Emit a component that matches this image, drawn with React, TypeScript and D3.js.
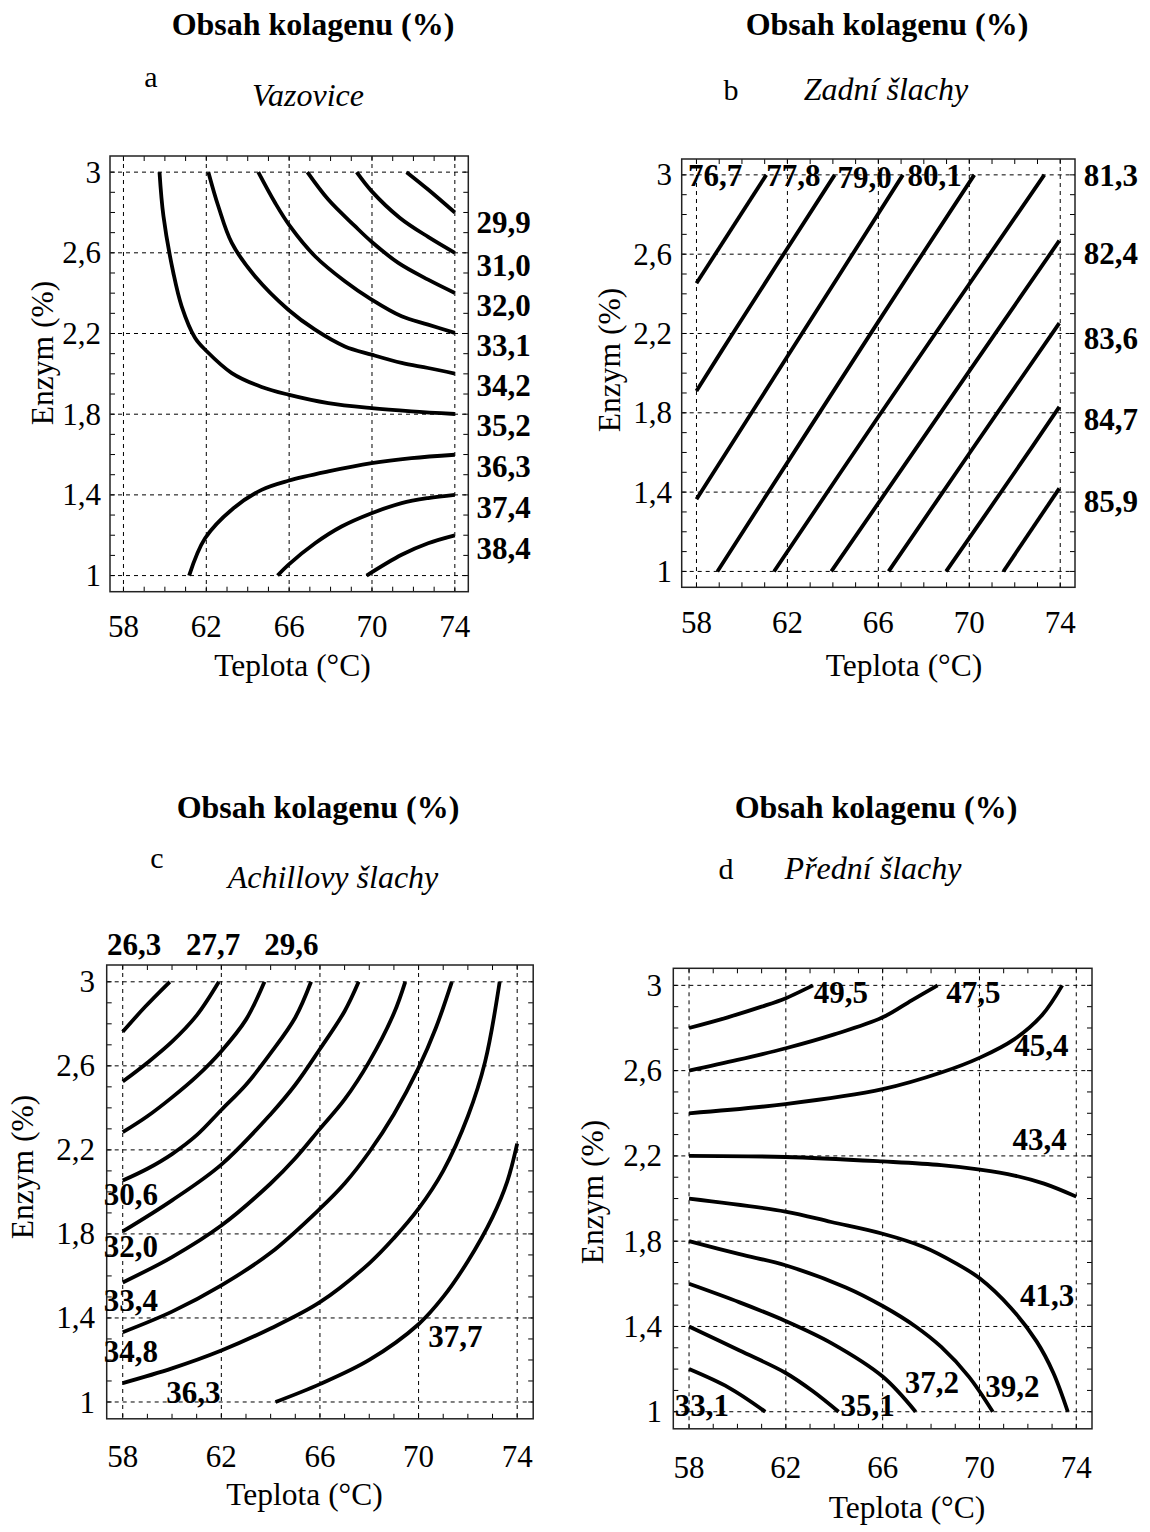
import React, { useRef, useEffect } from "react";
import * as d3 from "d3";

// shared axes (Teplota °C on x, Enzym % on y)
const xDomain = [57.35, 74.65];
const yDomain = [0.92, 3.08];
const xTicks = [58, 62, 66, 70, 74];
const yTicks = [1, 1.4, 1.8, 2.2, 2.6, 3];
const yTickLabels = ["1", "1,4", "1,8", "2,2", "2,6", "3"];
const xMinorTicks = [58, 59, 60, 61, 62, 63, 64, 65, 66, 67, 68, 69, 70, 71, 72, 73, 74];
const yMinorTicks = [1, 1.1, 1.2, 1.3, 1.4, 1.5, 1.6, 1.7, 1.8, 1.9, 2, 2.1, 2.2, 2.3, 2.4, 2.5, 2.6, 2.7, 2.8, 2.9, 3];

// a - Vazovice: contour lines [teplota, enzym]
const vazoviceCurves = [
  [[71.67, 3], [72.71, 2.914], [74, 2.8]],
  [[69.26, 3], [69.98, 2.906], [71.35, 2.773], [72.71, 2.679], [74, 2.6]],
  [[66.88, 3], [67.89, 2.864], [69.18, 2.732], [69.98, 2.655], [71.27, 2.55], [72.71, 2.467], [74, 2.401]],
  [[64.51, 3], [65.32, 2.848], [66.04, 2.732], [67.25, 2.583], [68.69, 2.459], [69.98, 2.368], [71.43, 2.285], [72.71, 2.244], [74, 2.203]],
  [[62.1, 3], [62.58, 2.831], [63.23, 2.649], [64.35, 2.484], [65.96, 2.318], [67.25, 2.219], [68.69, 2.136], [69.98, 2.095], [71.43, 2.054], [72.71, 2.029], [74, 2.001]],
  [[59.74, 3], [59.93, 2.782], [60.41, 2.5], [60.81, 2.335], [61.46, 2.178], [62.02, 2.112], [63.23, 2.004], [64.67, 1.935], [65.96, 1.897], [67.89, 1.855], [69.98, 1.83], [71.91, 1.814], [74, 1.801]],
  [[61.17, 1], [61.94, 1.185], [63.31, 1.334], [64.67, 1.425], [65.96, 1.47], [67.89, 1.516], [69.98, 1.557], [71.91, 1.582], [74, 1.599]],
  [[65.44, 1], [65.96, 1.053], [67.25, 1.16], [68.53, 1.243], [69.98, 1.309], [71.43, 1.359], [72.71, 1.384], [74, 1.4]],
  [[69.74, 1], [71.43, 1.103], [72.71, 1.16], [74, 1.199]],
];
const vazoviceLabels = [
  ["29,9", 75.05, 2.696], ["31,0", 75.05, 2.487], ["32,0", 75.05, 2.289],
  ["33,1", 75.05, 2.088], ["34,2", 75.05, 1.888], ["35,2", 75.05, 1.69],
  ["36,3", 75.05, 1.491], ["37,4", 75.05, 1.286], ["38,4", 75.05, 1.083],
];

// b - Zadní šlachy
const zadniCurves = [
  [[58, 2.453], [61.07, 3]],
  [[58, 1.91], [59.54, 2.19], [64.08, 3]],
  [[58, 1.364], [64.22, 2.484], [67.08, 3]],
  [[58.92, 1], [66, 2.26], [70.22, 3]],
  [[61.41, 1], [66, 1.78], [73.3, 3]],
  [[63.93, 1], [70, 2.01], [73.96, 2.668]],
  [[66.45, 1], [70, 1.595], [73.96, 2.252]],
  [[68.98, 1], [72, 1.5], [73.96, 1.83]],
  [[71.5, 1], [73.96, 1.419]],
];
const zadniLabels = [
  ["76,7", 57.63, 2.945], ["77,8", 61.07, 2.945], ["79,0", 64.2, 2.935], ["80,1", 67.28, 2.945],
  ["81,3", 75.03, 2.945], ["82,4", 75.03, 2.548], ["83,6", 75.03, 2.122],
  ["84,7", 75.03, 1.714], ["85,9", 75.03, 1.298],
];

// c - Achillovy šlachy
const achillovyCurves = [
  [[58, 2.762], [58.9, 2.88], [59.91, 3]],
  [[58, 2.525], [59, 2.615], [60, 2.715], [61, 2.84], [61.9, 3]],
  [[58, 2.284], [59, 2.36], [60, 2.45], [61, 2.55], [62, 2.67], [63, 2.82], [63.75, 3]],
  [[58, 2.054], [59, 2.11], [60, 2.18], [61, 2.27], [62, 2.39], [63, 2.51], [64, 2.66], [65, 2.83], [65.64, 3]],
  [[58, 1.812], [60, 1.96], [62, 2.13], [64, 2.37], [65, 2.51], [66, 2.68], [67, 2.86], [67.57, 3]],
  [[58, 1.569], [60, 1.69], [62, 1.84], [64, 2.04], [65, 2.16], [66, 2.3], [67, 2.44], [68, 2.62], [69, 2.85], [69.46, 3]],
  [[58, 1.332], [60, 1.43], [62, 1.555], [64, 1.71], [66, 1.92], [67, 2.04], [68, 2.19], [69, 2.37], [70, 2.59], [70.7, 2.78], [71.35, 3]],
  [[58, 1.09], [60, 1.16], [62, 1.245], [64, 1.35], [66, 1.475], [68, 1.66], [69, 1.78], [70, 1.92], [71, 2.1], [72, 2.36], [72.7, 2.62], [73.29, 3]],
  [[64.2, 1], [66, 1.085], [68, 1.2], [70, 1.37], [71, 1.5], [72, 1.67], [73, 1.88], [73.6, 2.05], [74, 2.23]],
];
const achillovyLabels = [
  ["26,3", 57.36, 3.127], ["27,7", 60.57, 3.127], ["29,6", 63.74, 3.127],
  ["30,6", 57.23, 1.939], ["32,0", 57.23, 1.692], ["33,4", 57.23, 1.432],
  ["34,8", 57.23, 1.189], ["36,3", 59.77, 0.994], ["37,7", 70.39, 1.26],
];

// d - Přední šlachy
const predniCurves = [
  [[58, 2.8], [59.6, 2.85], [61, 2.9], [62, 2.94], [63.12, 3]],
  [[58, 2.6], [60, 2.65], [62, 2.705], [64, 2.77], [66, 2.85], [67.2, 2.93], [68.27, 3]],
  [[58, 2.4], [61.98, 2.443], [66, 2.513], [68.42, 2.591], [70.02, 2.661], [71.45, 2.748], [72.59, 2.861], [73.42, 3]],
  [[58, 2.2], [61.98, 2.195], [66, 2.174], [68.42, 2.157], [70.02, 2.136], [71.45, 2.108], [72.67, 2.07], [74, 2.009]],
  [[58, 2], [61.98, 1.939], [63.88, 1.89], [66, 1.835], [67.67, 1.774], [69.03, 1.696], [70.02, 1.625], [71.3, 1.487], [72.36, 1.33], [73.05, 1.183], [73.65, 1]],
  [[58, 1.8], [60.09, 1.739], [61.98, 1.687], [64.48, 1.583], [66, 1.496], [67.36, 1.4], [68.42, 1.304], [69.56, 1.165], [70.55, 1]],
  [[58, 1.6], [60.09, 1.513], [61.98, 1.426], [63.88, 1.322], [66, 1.165], [67.36, 1]],
  [[58, 1.4], [60.09, 1.287], [61.98, 1.183], [63.12, 1.096], [64.18, 1]],
  [[58, 1.2], [59.64, 1.113], [61.15, 1]],
];
const predniLabels = [
  ["49,5", 63.15, 2.916], ["47,5", 68.63, 2.916], ["45,4", 71.44, 2.667],
  ["43,4", 71.37, 2.227], ["41,3", 71.67, 1.497], ["39,2", 70.24, 1.07],
  ["37,2", 66.91, 1.089], ["35,1", 64.26, 0.981], ["33,1", 57.41, 0.981],
];

const panels = [
  { letter: "a", subtitle: "Vazovice", curves: vazoviceCurves, labels: vazoviceLabels,
    left: 110, right: 468.3, top: 156, bottom: 591.7,
    titleX: 313, titleY: 35, letterX: 151, letterY: 87, subX: 308, subY: 106,
    xTitleX: 292.5, xTitleY: 676, yTitleX: 53, yTitleY: 353, tickY: 637, yTickX: 101 },
  { letter: "b", subtitle: "Zadní šlachy", curves: zadniCurves, labels: zadniLabels,
    left: 681.7, right: 1075, top: 159, bottom: 587.3,
    titleX: 887, titleY: 35, letterX: 731, letterY: 100, subX: 886, subY: 100,
    xTitleX: 904, xTitleY: 676, yTitleX: 620, yTitleY: 360, tickY: 633, yTickX: 672 },
  { letter: "c", subtitle: "Achillovy šlachy", curves: achillovyCurves, labels: achillovyLabels,
    left: 106.7, right: 533.2, top: 965, bottom: 1418.8,
    titleX: 318, titleY: 818, letterX: 157, letterY: 868, subX: 333, subY: 888,
    xTitleX: 304.5, xTitleY: 1505, yTitleX: 33, yTitleY: 1167, tickY: 1467, yTickX: 95 },
  { letter: "d", subtitle: "Přední šlachy", curves: predniCurves, labels: predniLabels,
    left: 673.3, right: 1092, top: 968.3, bottom: 1428.8,
    titleX: 876, titleY: 818, letterX: 726, letterY: 879, subX: 873, subY: 879,
    xTitleX: 907, xTitleY: 1518, yTitleX: 603, yTitleY: 1192, tickY: 1478, yTickX: 662 },
];

const serif = '"Liberation Serif", "Times New Roman", Times, serif';

function drawPanel(svg, p) {
  const x = d3.scaleLinear().domain(xDomain).range([p.left, p.right]);
  const y = d3.scaleLinear().domain(yDomain).range([p.bottom, p.top]);
  const g = svg.append("g");

  // dashed grid
  g.selectAll(".vgrid")
    .data(xTicks)
    .enter()
    .append("line")
    .attr("x1", (d) => x(d))
    .attr("x2", (d) => x(d))
    .attr("y1", p.top)
    .attr("y2", p.bottom)
    .attr("stroke", "#000")
    .attr("stroke-width", 1)
    .attr("stroke-dasharray", "4,4");

  g.selectAll(".hgrid")
    .data(yTicks)
    .enter()
    .append("line")
    .attr("x1", p.left)
    .attr("x2", p.right)
    .attr("y1", (d) => y(d))
    .attr("y2", (d) => y(d))
    .attr("stroke", "#000")
    .attr("stroke-width", 1)
    .attr("stroke-dasharray", "4,4");

  // inner ticks on all four sides
  const tick = 5;
  xMinorTicks.forEach((d) => {
    g.append("line").attr("x1", x(d)).attr("x2", x(d)).attr("y1", p.bottom).attr("y2", p.bottom - tick)
      .attr("stroke", "#000").attr("stroke-width", 1);
    g.append("line").attr("x1", x(d)).attr("x2", x(d)).attr("y1", p.top).attr("y2", p.top + tick)
      .attr("stroke", "#000").attr("stroke-width", 1);
  });
  yMinorTicks.forEach((d) => {
    g.append("line").attr("x1", p.left).attr("x2", p.left + tick).attr("y1", y(d)).attr("y2", y(d))
      .attr("stroke", "#000").attr("stroke-width", 1);
    g.append("line").attr("x1", p.right).attr("x2", p.right - tick).attr("y1", y(d)).attr("y2", y(d))
      .attr("stroke", "#000").attr("stroke-width", 1);
  });

  // frame
  g.append("rect")
    .attr("x", p.left)
    .attr("y", p.top)
    .attr("width", p.right - p.left)
    .attr("height", p.bottom - p.top)
    .attr("fill", "none")
    .attr("stroke", "#222")
    .attr("stroke-width", 1.5);

  // contour lines
  const line = d3
    .line()
    .x((d) => x(d[0]))
    .y((d) => y(d[1]))
    .curve(d3.curveCatmullRom.alpha(0.5));

  g.selectAll(".contour")
    .data(p.curves)
    .enter()
    .append("path")
    .attr("d", line)
    .attr("fill", "none")
    .attr("stroke", "#000")
    .attr("stroke-width", 3.8)
    .attr("stroke-linecap", "butt");

  // contour values
  g.selectAll(".level")
    .data(p.labels)
    .enter()
    .append("text")
    .attr("x", (d) => x(d[1]))
    .attr("y", (d) => y(d[2]))
    .attr("font-family", serif)
    .attr("font-weight", "bold")
    .attr("font-size", 31)
    .attr("fill", "#000")
    .text((d) => d[0]);

  // tick labels
  g.selectAll(".xtl")
    .data(xTicks)
    .enter()
    .append("text")
    .attr("x", (d) => x(d))
    .attr("y", p.tickY)
    .attr("text-anchor", "middle")
    .attr("font-family", serif)
    .attr("font-size", 31)
    .text((d) => d);

  g.selectAll(".ytl")
    .data(yTicks)
    .enter()
    .append("text")
    .attr("x", p.yTickX)
    .attr("y", (d) => y(d))
    .attr("dy", "0.34em")
    .attr("text-anchor", "end")
    .attr("font-family", serif)
    .attr("font-size", 31)
    .text((d, i) => yTickLabels[i]);

  // axis titles
  g.append("text")
    .attr("x", p.xTitleX)
    .attr("y", p.xTitleY)
    .attr("text-anchor", "middle")
    .attr("font-family", serif)
    .attr("font-size", 31.5)
    .text("Teplota (°C)");

  g.append("text")
    .attr("transform", `translate(${p.yTitleX}, ${p.yTitleY}) rotate(-90)`)
    .attr("text-anchor", "middle")
    .attr("font-family", serif)
    .attr("font-size", 31.5)
    .text("Enzym (%)");

  // headings
  g.append("text")
    .attr("x", p.titleX)
    .attr("y", p.titleY)
    .attr("text-anchor", "middle")
    .attr("font-family", serif)
    .attr("font-weight", "bold")
    .attr("font-size", 32)
    .text("Obsah kolagenu (%)");

  g.append("text")
    .attr("x", p.letterX)
    .attr("y", p.letterY)
    .attr("text-anchor", "middle")
    .attr("font-family", serif)
    .attr("font-size", 30)
    .text(p.letter);

  g.append("text")
    .attr("x", p.subX)
    .attr("y", p.subY)
    .attr("text-anchor", "middle")
    .attr("font-family", serif)
    .attr("font-style", "italic")
    .attr("font-size", 32)
    .text(p.subtitle);
}

export default function App() {
  const svgRef = useRef(null);

  useEffect(() => {
    const svg = d3.select(svgRef.current);
    svg.selectAll("*").remove();
    svg.append("rect").attr("width", 1150).attr("height", 1532).attr("fill", "#fff");
    panels.forEach((p) => drawPanel(svg, p));
  }, []);

  return (
    <svg
      ref={svgRef}
      width={1150}
      height={1532}
      style={{ position: "absolute", left: 0, top: 0, display: "block" }}
    ></svg>
  );
}
